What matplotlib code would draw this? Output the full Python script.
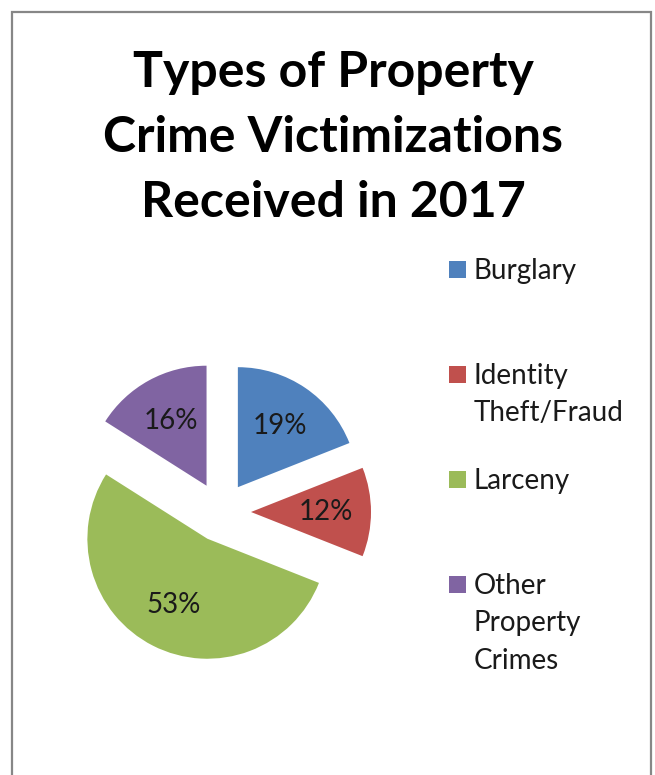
import textwrap
import matplotlib
matplotlib.use("Agg")
import matplotlib.pyplot as plt
from matplotlib.patches import Rectangle

# Data
categories = ["Burglary", "Identity Theft/Fraud", "Larceny", "Other Property Crimes"]
shares = [19, 12, 53, 16]
colors = ["#4F81BD", "#C0504D", "#9BBB59", "#8064A2"]
title_lines = ["Types of Property", "Crime Victimizations", "Received in 2017"]

W, H = 655, 775
fig = plt.figure(figsize=(W / 100, H / 100), dpi=100)
plt.rcParams["font.family"] = ["Lato", "DejaVu Sans"]


def px(x, y):
    # pixel coords (top-left origin) -> figure fraction
    return x / W, 1 - y / H


# outer frame (bottom edge runs off the page)
fig.patches.append(Rectangle(px(11.5, 800), 639 / W, (800 - 11.5) / H,
                             transform=fig.transFigure, fill=False,
                             edgecolor="#878787", linewidth=1.6))

# title
for i, line in enumerate(title_lines):
    fig.text(*px(333, 87 + 65 * i), line, ha="center", va="baseline",
             fontsize=36, fontweight="bold", color="black")

# pie: centre at (221, 512) px, radius 120 px
R = 120
a = 1.5
ax = fig.add_axes([(221 - a * R) / W, (H - 512 - a * R) / H, 2 * a * R / W, 2 * a * R / H])
ax.pie(shares, colors=colors, startangle=90, counterclock=False,
       explode=[0.25] * len(shares), autopct=lambda p: f"{p:.0f}%",
       pctdistance=0.62,
       textprops={"fontsize": 20, "color": "#1a1a1a"},
       wedgeprops={"linewidth": 0})
ax.set_xlim(-a, a)
ax.set_ylim(-a, a)
ax.set_aspect("equal")
ax.axis("off")

# legend
entry_y = [279, 384, 489, 594]
for name, col, y0 in zip(categories, colors, entry_y):
    fig.patches.append(Rectangle(px(449, y0 - 1.5), 17 / W, 17 / H,
                                 transform=fig.transFigure, facecolor=col,
                                 edgecolor="none"))
    for j, line in enumerate(textwrap.wrap(name, 11)):
        fig.text(*px(474, y0 + 37.5 * j), line, ha="left", va="baseline",
                 fontsize=20, color="#1a1a1a")

fig.savefig("out.png", dpi=100, facecolor="white")
